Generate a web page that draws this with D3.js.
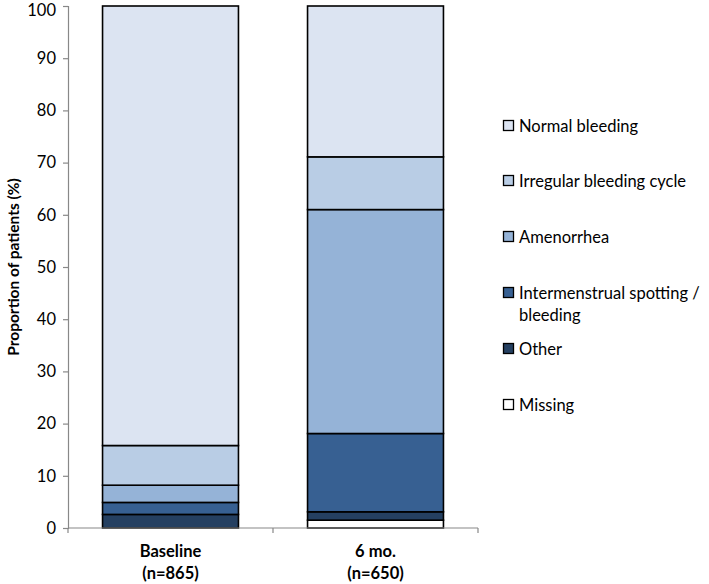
<!DOCTYPE html>
<html>
<head>
<meta charset="utf-8">
<script src="https://cdnjs.cloudflare.com/ajax/libs/d3/7.8.5/d3.min.js"></script>
<style>
  body { margin: 0; background: #fff; }
  svg { display: block; font-family: "Lato", "Open Sans", sans-serif; }
</style>
</head>
<body>
<svg id="chart" width="709" height="584"></svg>
<script>
const categories = ["Baseline", "6 mo."];
const categorySub = ["(n=865)", "(n=650)"];
// stacked bottom to top
const seriesNames = ["Missing", "Other", "Intermenstrual spotting / bleeding", "Amenorrhea", "Irregular bleeding cycle", "Normal bleeding"];
const missing = [0, 1.5];
const other = [2.6, 1.6];
const intermenstrual = [2.3, 15.0];
const amenorrhea = [3.3, 42.9];
const irregular = [7.6, 10.1];
const normal = [84.2, 28.9];
const colors = ["#ffffff", "#254061", "#376092", "#95b3d7", "#b9cde5", "#dce4f2"];
const yTicks = [0, 10, 20, 30, 40, 50, 60, 70, 80, 90, 100];
const legendOrder = ["Normal bleeding", "Irregular bleeding cycle", "Amenorrhea", "Intermenstrual spotting / bleeding", "Other", "Missing"];
const legendLines = {
  "Intermenstrual spotting / bleeding": ["Intermenstrual spotting /", "bleeding"]
};

const seriesValues = [missing, other, intermenstrual, amenorrhea, irregular, normal];
const table = categories.map((c, i) => {
  const row = { cat: c };
  seriesNames.forEach((s, j) => row[s] = seriesValues[j][i]);
  return row;
});
const stacked = d3.stack().keys(seriesNames)(table);
const color = d3.scaleOrdinal().domain(seriesNames).range(colors);

const svg = d3.select("#chart");
const x0 = 68, x1 = 478, yTop = 6, yBot = 528;
const x = d3.scaleBand().domain(categories).range([x0, x1]).paddingInner(0.337).paddingOuter(0.1685);
const y = d3.scaleLinear().domain([0, 100]).range([yBot, yTop]);

// bars
svg.append("g").selectAll("g").data(stacked).join("g")
  .attr("fill", d => color(d.key))
  .selectAll("rect").data(d => d).join("rect")
  .attr("x", d => x(d.data.cat))
  .attr("width", x.bandwidth())
  .attr("y", d => y(d[1]))
  .attr("height", d => y(d[0]) - y(d[1]))
  .attr("stroke", "#000")
  .attr("stroke-width", 1.6);

// y axis
const yAxis = svg.append("g").attr("transform", `translate(${x0},0)`)
  .call(d3.axisLeft(y).tickValues(yTicks).tickSize(5).tickPadding(7));
yAxis.select(".domain").attr("stroke", "#888").attr("stroke-width", 1.2);
yAxis.selectAll(".tick line").attr("stroke", "#888").attr("stroke-width", 1.2);
yAxis.selectAll(".tick text").attr("font-size", 16.5).attr("fill", "#000")
  .attr("font-family", "Lato, 'Open Sans', sans-serif")
  .attr("dy", d => d === 100 ? "0.6em" : "0.32em");

// x axis
const xAxisG = svg.append("g").attr("transform", `translate(0,${yBot})`);
xAxisG.append("line").attr("x1", x0).attr("x2", x1).attr("stroke", "#888").attr("stroke-width", 1.2);
const bounds = [x0, (x(categories[0]) + x.bandwidth() + x(categories[1])) / 2, x1];
xAxisG.selectAll("line.tk").data(bounds).join("line").attr("class", "tk")
  .attr("x1", d => d).attr("x2", d => d).attr("y1", 0).attr("y2", 5)
  .attr("stroke", "#888").attr("stroke-width", 1.2);
const xl = svg.append("g").selectAll("text").data(categories).join("text")
  .attr("x", d => x(d) + x.bandwidth() / 2)
  .attr("text-anchor", "middle")
  .attr("font-weight", "bold")
  .attr("font-size", 16.5);
xl.append("tspan").attr("x", d => x(d) + x.bandwidth() / 2).attr("y", 557).text(d => d);
xl.append("tspan").attr("x", d => x(d) + x.bandwidth() / 2).attr("y", 579).text((d, i) => categorySub[i]);

// y title
svg.append("text")
  .attr("transform", `translate(14,${(yTop + yBot) / 2}) rotate(-90)`)
  .attr("text-anchor", "middle")
  .attr("dy", "0.35em")
  .attr("font-weight", "bold")
  .attr("font-size", 15.5)
  .text("Proportion of patients (%)");

// legend
const legendY = [126, 181, 237, 293, 349, 405];
const lg = svg.append("g").selectAll("g").data(legendOrder).join("g")
  .attr("transform", (d, i) => `translate(503,${legendY[i]})`);
lg.append("rect").attr("x", 0.5).attr("y", -5.5).attr("width", 10).attr("height", 10)
  .attr("fill", d => color(d)).attr("stroke", "#000").attr("stroke-width", 1.3);
lg.each(function(d) {
  const lines = legendLines[d] || [d];
  const t = d3.select(this).append("text").attr("font-size", 16.5).attr("fill", "#000");
  lines.forEach((l, k) => {
    t.append("tspan").attr("x", 16).attr("y", k * 22).attr("dy", "0.35em").text(l);
  });
});
</script>
</body>
</html>
